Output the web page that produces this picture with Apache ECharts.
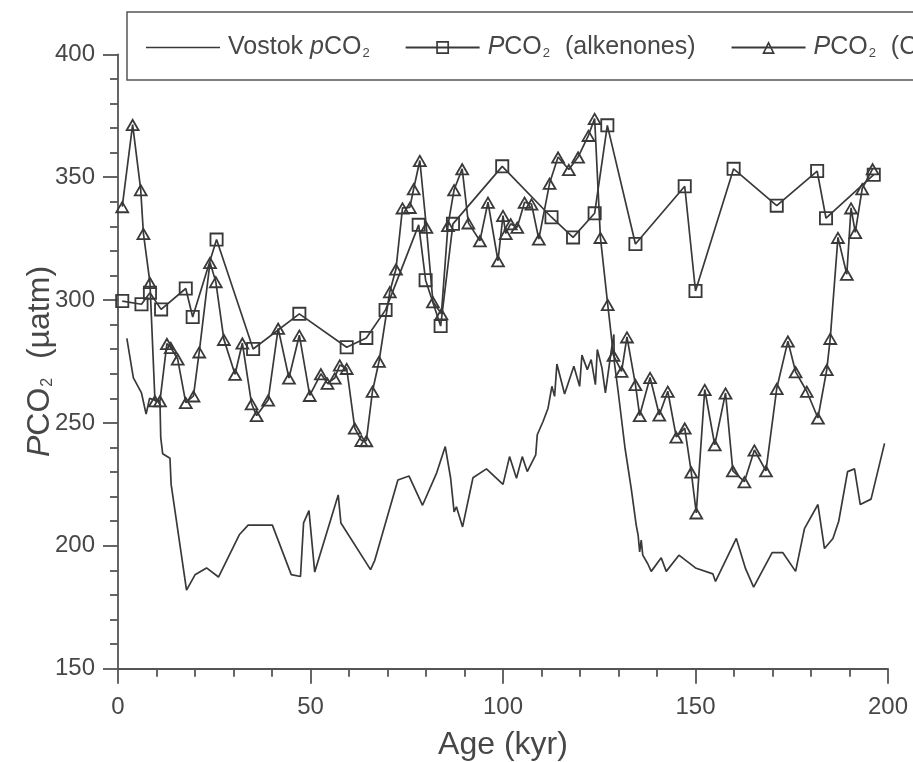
<!DOCTYPE html>
<html><head><meta charset="utf-8">
<script src="https://cdn.jsdelivr.net/npm/echarts@6/dist/echarts.min.js"></script>
<style>html,body{margin:0;padding:0;background:#fff}#c{width:913px;height:762px}</style>
</head><body><div id="c"></div>
<script>
// Vostok pCO2
const vostokAge = [2.3,3.6,4.0,6.1,7.3,8.2,10.9,11.1,11.6,13.5,13.8,17.8,20.0,23.0,26.1,31.5,33.8,40.1,45.0,47.4,48.2,49.6,51.1,57.2,57.9,65.6,66.7,72.7,75.6,79.1,82.8,85.0,86.4,87.3,87.9,89.5,92.2,95.7,100.0,101.7,103.5,105.0,106.3,108.5,108.9,110.4,111.7,112.7,113.4,114.0,116.0,118.4,119.9,120.5,121.9,122.9,124.0,124.5,125.7,126.6,128.1,128.8,128.9,129.9,131.7,133.3,134.6,135.1,135.5,135.9,136.3,137.6,138.5,141.1,142.4,145.7,150.0,154.5,155.2,160.6,163.0,165.1,169.9,172.7,176.0,178.3,181.8,183.5,185.7,187.2,189.5,191.3,192.8,195.6,199.1];
const vostokCO2 = [284.4,272,268.3,262.2,253.6,260,258.6,244,237.5,235.6,225,182,188.2,191,187.3,204.5,208.4,208.4,188.3,187.5,209.3,214.3,189.3,220.7,209.3,190.3,194.1,226.8,228.4,216.5,229.8,240.4,227.5,213.8,215.9,207.7,227.7,231.3,225.0,236.3,227.5,236.3,230.2,237.0,245.2,250.6,256.0,264.9,260.8,274.0,261.8,273.1,264.9,277.6,271.7,275.8,265.6,279.9,272.4,262.2,279.2,286,275,262.9,239.7,223.4,208.4,204.3,197.5,202.3,196.2,192.7,189.6,195.1,189.6,196.2,191.0,188.6,185.5,203.0,190.7,183.2,197.2,197.2,189.6,207.0,216.8,198.9,203.0,210.0,230.2,231.3,216.8,219.0,241.7];

// PCO2 (alkenones)
const alkAge = [1.1,6.1,8.3,11.2,17.6,19.4,25.6,35.1,47.1,59.4,64.5,69.5,78.1,79.9,83.8,87.0,99.8,112.6,118.2,123.8,127.1,134.4,147.2,150.0,159.9,171.1,181.6,183.9,196.3];
const alkCO2 = [299.6,298.3,303.0,296.2,304.7,293.1,324.6,280.1,294.4,280.8,284.6,296,330.6,308.1,289.4,331,354.4,333.7,325.5,335.3,371.1,322.8,346.3,303.7,353.4,338.4,352.5,333.3,351];

// PCO2 (C...)
const cAge = [1.1,3.8,5.9,6.6,8.3,9.6,10.9,12.7,13.7,15.5,17.6,19.6,21.1,23.9,25.4,27.5,30.4,32.3,34.7,36.0,39.0,41.6,44.4,47.1,49.8,52.7,54.4,56.3,57.6,59.4,61.5,63.2,64.5,66.1,67.8,70.6,72.2,73.9,75.8,76.8,78.4,80.1,81.8,84.0,85.7,87.3,89.4,91.0,94.0,96.1,98.7,100.0,100.7,102.0,103.7,105.6,107.4,109.3,112.1,114.3,117.1,119.5,122.2,123.8,125.3,127.2,128.7,130.8,132.2,134.4,135.5,138.2,140.6,142.8,145.0,147.2,148.9,150.2,152.4,155.0,157.8,159.7,162.7,165.3,168.3,171.1,174.0,176.0,178.9,181.8,184.1,185.0,187.0,189.3,190.4,191.5,193.3,196.0];
const cCO2 = [338,371.4,344.9,327.1,307.1,259,259,282.3,280.7,276,258.3,261,278.9,315.3,307.5,284,269.8,282.5,257.8,253,259.3,288.5,268.3,285.7,261.2,270,266.1,268.3,273.6,272.2,247.9,242.9,242.8,262.9,275.1,303.4,312.6,337.5,337.7,345.3,356.8,329.6,299.3,294.4,330.3,344.9,353.4,331.4,324.1,339.8,316.0,334.4,327.1,331,329.6,339.8,339.1,324.8,347.5,358.2,353.1,358.2,367.0,373.9,325.5,298.2,277.5,271,285,265.6,253,268.5,253.2,262.9,244.3,247.9,230,213.4,263.6,241.1,262.2,230.5,226.1,239.0,230.5,264.0,283.3,270.8,262.9,252.0,271.7,284.4,325.5,310.5,337.5,327.5,345.3,353.4];

const xTicks = [0, 50, 100, 150, 200];
const yTicks = [150, 200, 250, 300, 350, 400];

const seriesNames = ['Vostok', 'Alkenones', 'C'];
const legendLabels = {
  'Vostok': 'Vostok {i|p}CO{s|2}',
  'Alkenones': '{i|P}CO{s|2}  (alkenones)',
  'C': '{i|P}CO{s|2}  (Coccoliths)'
};

const FONT = '"Liberation Sans", Arial, Helvetica, sans-serif';
const INK = '#393939';
const TXT = '#474747';

const zip = (a, b) => a.map((v, i) => [v, b[i]]);

const squareRing = 'path://M0,0 L10,0 L10,10 L0,10 Z M1.3,1.3 L1.3,8.7 L8.7,8.7 L8.7,1.3 Z';
const triRing = 'path://M5,0 L10,8.66 L0,8.66 Z M5,2.40 L2.08,7.46 L7.92,7.46 Z';
const lineIcon = 'path://M0,0 L74,0 L74,1.7 L0,1.7 Z';

const richText = {
  i: {fontStyle: 'italic', fontSize: 25, fontFamily: FONT, color: TXT},
  s: {fontSize: 13, fontFamily: FONT, color: TXT, verticalAlign: 'bottom', padding: [0, 1, 0, 1]}
};
const richTitle = {
  i: {fontStyle: 'italic', fontSize: 32, fontFamily: FONT, color: TXT},
  s: {fontSize: 16, fontFamily: FONT, color: TXT, verticalAlign: 'bottom', padding: [0, 1, 0, 1]}
};

const axisCommon = {
  type: 'value',
  axisLine: {show: true, onZero: false, lineStyle: {color: '#555', width: 1.8}},
  axisTick: {show: true, length: 15, lineStyle: {color: '#555', width: 1.8}},
  minorTick: {show: true, splitNumber: 5, length: 8, lineStyle: {color: '#555', width: 1.8}},
  splitLine: {show: false},
  minorSplitLine: {show: false},
  nameLocation: 'middle',
  nameMoveOverlap: false
};

const chart = echarts.init(document.getElementById('c'), null, {renderer: 'canvas'});
chart.setOption({
  animation: false,
  backgroundColor: '#fff',
  grid: {left: 118, right: 25, top: 54.3, bottom: 93.3, containLabel: false, outerBoundsMode: 'none'},
  legend: {
    show: true,
    left: 127, top: 12,
    width: 1100,
    orient: 'horizontal',
    padding: [23, 20, 20, 19],
    itemWidth: 74, itemHeight: 16, itemGap: 35,
    borderColor: '#555', borderWidth: 1.5,
    data: [
      {name: 'Vostok', icon: lineIcon},
      {name: 'Alkenones'},
      {name: 'C'}
    ],
    formatter: n => legendLabels[n],
    textStyle: {fontSize: 25, fontFamily: FONT, color: TXT, rich: richText, padding: [0, 0, 0, 3]}
  },
  xAxis: Object.assign({}, axisCommon, {
    min: xTicks[0], max: xTicks[xTicks.length - 1], interval: 50,
    axisLabel: {margin: 27, fontSize: 24, fontFamily: FONT, color: TXT},
    name: 'Age (kyr)', nameGap: 60,
    nameTextStyle: {fontSize: 32, fontFamily: FONT, color: TXT}
  }),
  yAxis: Object.assign({}, axisCommon, {
    min: yTicks[0], max: yTicks[yTicks.length - 1], interval: 50,
    axisLabel: {margin: 23, fontSize: 24, fontFamily: FONT, color: TXT},
    name: '{i|P}CO{s|2}  (µatm)', nameGap: 62,
    nameTextStyle: {fontSize: 32, fontFamily: FONT, color: TXT, rich: richTitle}
  }),
  series: [
    {
      name: 'Vostok', type: 'line', data: zip(vostokAge, vostokCO2),
      symbol: 'none', showSymbol: false, color: INK,
      lineStyle: {color: INK, width: 1.7}, z: 2
    },
    {
      name: 'Alkenones', type: 'line', data: zip(alkAge, alkCO2),
      symbol: squareRing, symbolSize: 14, color: INK,
      itemStyle: {color: INK},
      lineStyle: {color: INK, width: 1.7}, z: 3
    },
    {
      name: 'C', type: 'line', data: zip(cAge, cCO2),
      symbol: triRing, symbolSize: [15, 13], color: INK,
      itemStyle: {color: INK},
      lineStyle: {color: INK, width: 1.7}, z: 4
    }
  ]
});
</script></body></html>
